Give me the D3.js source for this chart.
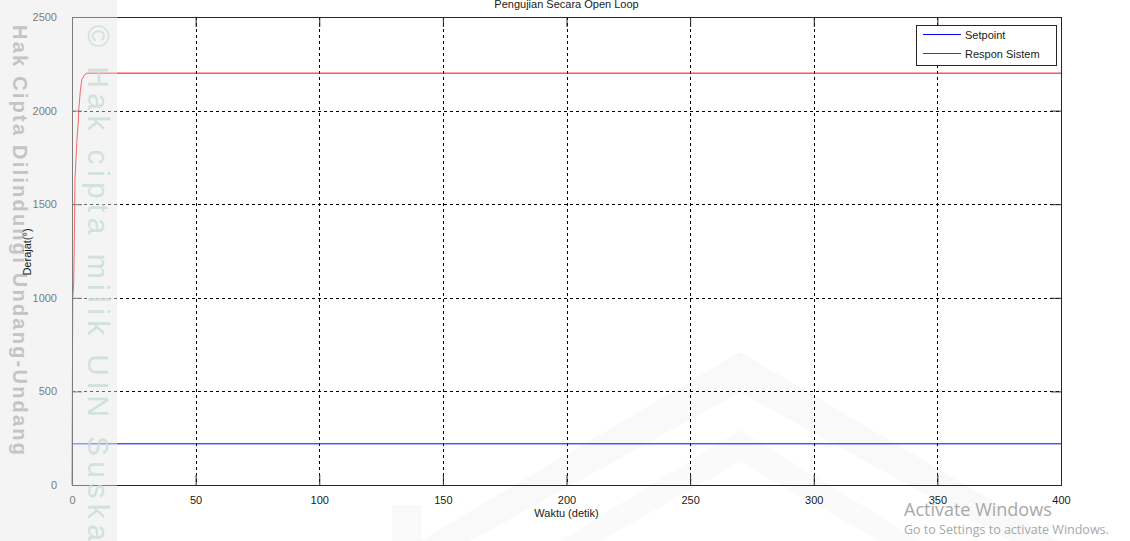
<!DOCTYPE html>
<html>
<head>
<meta charset="utf-8">
<script src="https://cdn.jsdelivr.net/npm/d3@7"></script>
<style>
  body { margin: 0; background: #fff; }
  svg { display: block; }
  text { font-family: "Liberation Sans", Arial, sans-serif; }
</style>
</head>
<body>
<svg width="1130" height="541"></svg>
<script>
// data
const timeSetpoint = [0, 400];
const setpoint = [220, 220];
const timeRespon = [0, 0.3, 0.7, 1.1, 1.2, 2.0, 2.6, 2.7, 3.4, 4.0, 5.0, 6.1, 400];
const respon = [0, 1000, 1080, 1485, 1630, 1845, 1950, 2000, 2110, 2165, 2190, 2200, 2200];
const xTicks = [0, 50, 100, 150, 200, 250, 300, 350, 400];
const yTicks = [0, 500, 1000, 1500, 2000, 2500];
const seriesNames = ["Setpoint", "Respon Sistem"];
const seriesColors = ["#0000ff", "#ff0000"];

const svg = d3.select("svg");
const margin = {top: 17, right: 69, bottom: 56, left: 72};
const width = 1130, height = 541;
const innerWidth = width - margin.left - margin.right;
const innerHeight = height - margin.top - margin.bottom;

// faint background logo (roof shape)
const bg = svg.append("g");
bg.append("path")
    .attr("d", "M420,541 L740,352 L1060,541 L1010,541 L740,392 L470,541 Z")
    .attr("fill", "#f9f9f9");
bg.append("path")
    .attr("d", "M560,541 L740,430 L920,541 L880,541 L740,462 L600,541 Z")
    .attr("fill", "#fafafa");
bg.append("rect").attr("x", 392).attr("y", 505).attr("width", 30).attr("height", 36).attr("fill", "#f9f9f9");

const scaleX = d3.scaleLinear().domain([0, 400]).range([0, innerWidth]);
const scaleY = d3.scaleLinear().domain([0, 2500]).range([innerHeight, 0]);

const g = svg.append("g")
    .attr("transform", `translate(${margin.left}, ${margin.top})`);

// grid
xTicks.slice(1, -1).forEach(t => {
    g.append("line")
        .attr("x1", Math.round(scaleX(t)) + 0.5).attr("x2", Math.round(scaleX(t)) + 0.5)
        .attr("y1", 0).attr("y2", innerHeight)
        .attr("stroke", "#000").attr("stroke-dasharray", "3,3");
});
yTicks.slice(1, -1).forEach(t => {
    g.append("line")
        .attr("y1", Math.round(scaleY(t)) + 0.5).attr("y2", Math.round(scaleY(t)) + 0.5)
        .attr("x1", 0).attr("x2", innerWidth)
        .attr("stroke", "#000").attr("stroke-dasharray", "3,3");
});

// lines
const series = [
    {t: timeSetpoint, v: setpoint},
    {t: timeRespon, v: respon}
];
series.forEach((s, i) => {
    const pts = s.t.map((t, j) => [t, s.v[j]]);
    g.append("path")
        .datum(pts)
        .attr("fill", "none")
        .attr("stroke", seriesColors[i])
        .attr("stroke-width", 1)
        .attr("d", d3.line().x(d => scaleX(d[0])).y(d => scaleY(d[1])));
});

// axes (ticks inside, box on)
const tickLen = 10;
const axisColor = "#262626";
const fmt = d3.format("d");
const xb = g.append("g").attr("transform", `translate(0, ${innerHeight})`)
    .call(d3.axisBottom(scaleX).tickValues(xTicks).tickSize(-tickLen).tickPadding(tickLen + 4).tickFormat(fmt));
const xt = g.append("g")
    .call(d3.axisTop(scaleX).tickValues(xTicks).tickSize(-tickLen).tickFormat(""));
const yr = g.append("g").attr("transform", `translate(${innerWidth}, 0)`)
    .call(d3.axisRight(scaleY).tickValues(yTicks).tickSize(-tickLen).tickFormat(""));

// watermark strip
const wm = svg.append("g");
wm.append("rect").attr("x", 0).attr("y", 0).attr("width", 117).attr("height", height)
    .attr("fill", "#e6e6e6").attr("opacity", 0.45);
wm.append("text")
    .attr("transform", "translate(13, 25) rotate(90)")
    .attr("font-size", 20).attr("font-weight", "bold").attr("fill", "#c4c4c4")
    .attr("textLength", 430).attr("lengthAdjust", "spacing")
    .text("Hak Cipta Dilindungi Undang-Undang");
wm.append("text")
    .attr("transform", "translate(88, 25) rotate(90)")
    .attr("font-size", 30).attr("fill", "#c9ddd7").attr("opacity", 0.8)
    .style("letter-spacing", "5.4px")
    .text("© Hak cipta milik UIN Suska Riau");

// left axis drawn over the strip so its labels stay dark
const yl = g.append("g")
    .call(d3.axisLeft(scaleY).tickValues(yTicks).tickSize(-tickLen).tickPadding(tickLen + 5).tickFormat(fmt));

[xb, xt, yl, yr].forEach(a => {
    a.select(".domain").attr("stroke", axisColor);
    a.selectAll(".tick line").attr("stroke", axisColor);
    a.selectAll("text").attr("fill", "#1a1a1a")
        .style("font-size", "11px").style("font-family", "'Liberation Sans', Arial, sans-serif");
});
xb.raise();
xb.selectAll("text").attr("dy", "0.45em");

// titles
svg.append("text")
    .attr("x", margin.left + innerWidth / 2).attr("y", 8)
    .attr("text-anchor", "middle").attr("font-size", 11).attr("fill", "#1a1a1a")
    .text("Pengujian Secara Open Loop");
svg.append("text")
    .attr("x", margin.left + innerWidth / 2).attr("y", 517)
    .attr("text-anchor", "middle").attr("font-size", 11).attr("fill", "#1a1a1a")
    .text("Waktu (detik)");
svg.append("text")
    .attr("transform", "translate(31, 252) rotate(-90)")
    .attr("text-anchor", "middle").attr("font-size", 11).attr("fill", "#1a1a1a")
    .text("Derajat(°)");

// legend
const lg = svg.append("g").attr("transform", "translate(916, 25)");
lg.append("rect").attr("x", 0.5).attr("y", 0.5).attr("width", 140).attr("height", 40)
    .attr("fill", "#fff").attr("stroke", axisColor);
seriesNames.forEach((name, i) => {
    const y = 9.5 + i * 19;
    lg.append("line").attr("x1", 7).attr("x2", 45).attr("y1", y).attr("y2", y)
        .attr("stroke", seriesColors[i]);
    lg.append("text").attr("x", 49).attr("y", y + 4.5)
        .attr("font-size", 11).attr("fill", "#1a1a1a").text(name);
});

// activation notice
svg.append("text").attr("x", 904).attr("y", 516)
    .style("font-family", "'Open Sans', 'Noto Sans', sans-serif")
    .attr("font-size", 18).attr("fill", "#a8a8a8").text("Activate Windows");
svg.append("text").attr("x", 904).attr("y", 534)
    .style("font-family", "'Open Sans', 'Noto Sans', sans-serif")
    .attr("font-size", 12.5).attr("fill", "#a8a8a8").text("Go to Settings to activate Windows.");
</script>
</body>
</html>
